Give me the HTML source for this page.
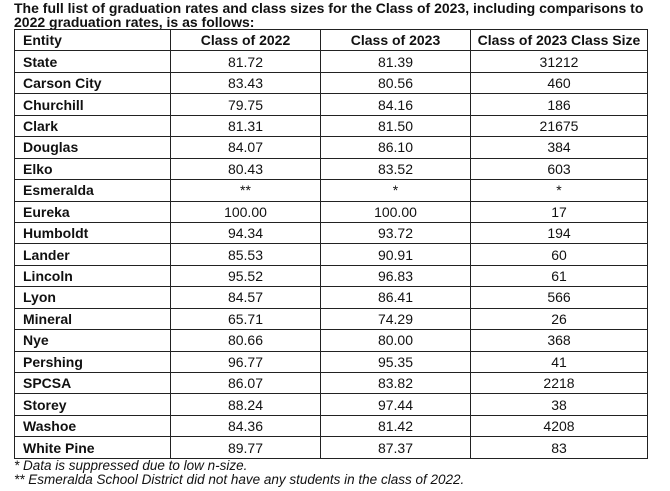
<!DOCTYPE html>
<html><head><meta charset="utf-8"><style>
body{margin:0;width:670px;height:491px;background:#fff;overflow:hidden;font-family:"Liberation Sans",Arial,sans-serif;color:#111;position:relative}
.title{position:absolute;left:14px;top:1px;font-weight:bold;font-size:14px;line-height:14px;width:650px}
table{position:absolute;left:14px;top:29px;border-collapse:collapse;table-layout:fixed}
tr{height:21.45px}
td{border:1.5px solid #222;padding:0;font-size:14px;text-align:center;line-height:18px}
td.e{text-align:left;padding-left:8px;font-weight:bold}
tr.h td{font-weight:bold}
.foot{position:absolute;left:14px;top:459px;font-style:italic;font-size:13.5px;line-height:14px}
</style></head><body>
<div class="title">The full list of graduation rates and class sizes for the Class of 2023, including comparisons to<br>2022 graduation rates, is as follows:</div>
<table>
<colgroup><col style="width:156px"><col style="width:150px"><col style="width:150px"><col style="width:177px"></colgroup>
<tbody id="tb">
<tr class="h"><td class="e">Entity</td><td>Class of 2022</td><td>Class of 2023</td><td>Class of 2023 Class Size</td></tr>
</tbody></table>
<div class="foot">* Data is suppressed due to low n-size.<br>** Esmeralda School District did not have any students in the class of 2022.</div>
<script>
const entities=["State","Carson City","Churchill","Clark","Douglas","Elko","Esmeralda","Eureka","Humboldt","Lander","Lincoln","Lyon","Mineral","Nye","Pershing","SPCSA","Storey","Washoe","White Pine"];
const rate2022=["81.72","83.43","79.75","81.31","84.07","80.43","**","100.00","94.34","85.53","95.52","84.57","65.71","80.66","96.77","86.07","88.24","84.36","89.77"];
const rate2023=["81.39","80.56","84.16","81.50","86.10","83.52","*","100.00","93.72","90.91","96.83","86.41","74.29","80.00","95.35","83.82","97.44","81.42","87.37"];
const classSize=["31212","460","186","21675","384","603","*","17","194","60","61","566","26","368","41","2218","38","4208","83"];
const tb=document.getElementById('tb');
entities.forEach((e,i)=>{
 const tr=document.createElement('tr');
 
 
 [e,rate2022[i],rate2023[i],classSize[i]].forEach((v,j)=>{
  const td=document.createElement('td');
  td.textContent=v;
  if(j==0)td.className='e';
  
  
  tr.appendChild(td);
 });
 tb.appendChild(tr);
});
</script>
</body></html>
